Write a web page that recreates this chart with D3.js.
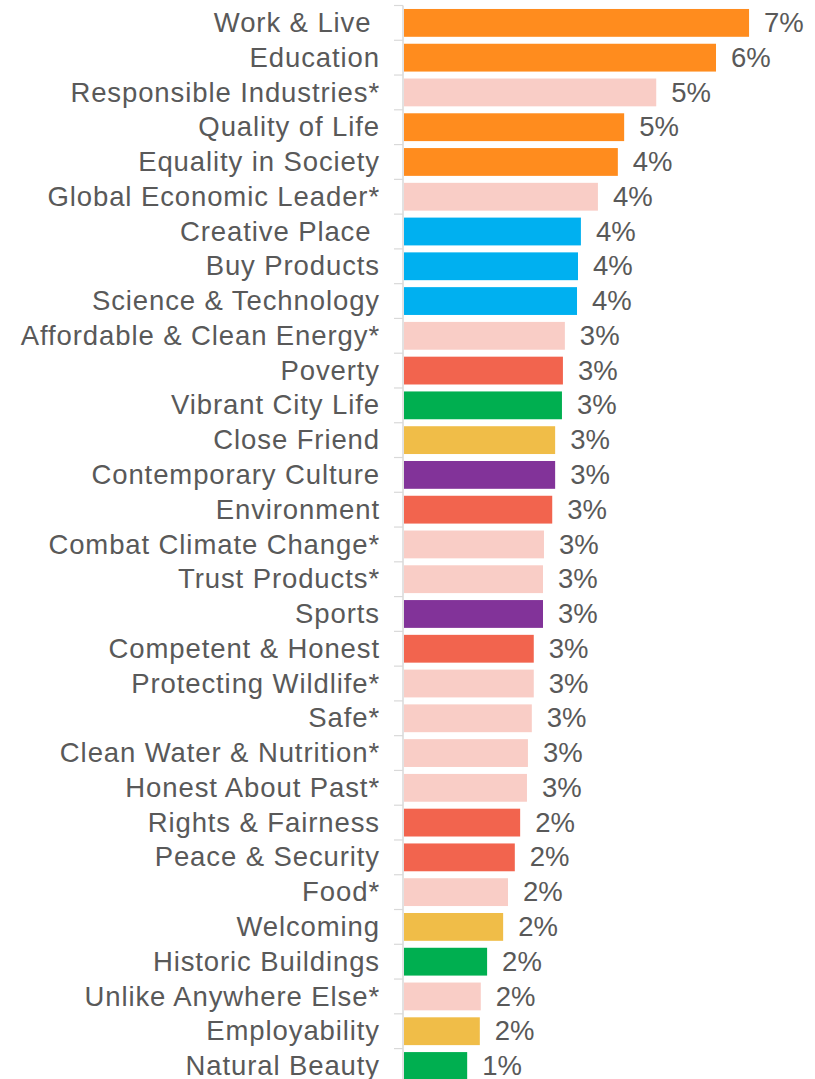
<!DOCTYPE html>
<html>
<head>
<meta charset="utf-8">
<script src="https://cdn.jsdelivr.net/npm/d3@7"></script>
<style>
  html, body { margin: 0; padding: 0; background: #fff; }
  svg { display: block; }
  text { font-family: "Liberation Sans", Arial, sans-serif; fill: #595959; white-space: pre; }
</style>
</head>
<body>
<svg id="chart" width="815" height="1079"></svg>
<script>
// Share of mentions per attribute (percent)
const categories = [
  "Work & Live ", "Education", "Responsible Industries*", "Quality of Life",
  "Equality in Society", "Global Economic Leader*", "Creative Place ", "Buy Products",
  "Science & Technology", "Affordable & Clean Energy*", "Poverty", "Vibrant City Life",
  "Close Friend", "Contemporary Culture", "Environment", "Combat Climate Change*",
  "Trust Products*", "Sports", "Competent & Honest", "Protecting Wildlife*",
  "Safe*", "Clean Water & Nutrition*", "Honest About Past*", "Rights & Fairness",
  "Peace & Security", "Food*", "Welcoming", "Historic Buildings",
  "Unlike Anywhere Else*", "Employability", "Natural Beauty"
];

const values = [
  7.10, 6.42, 5.19, 4.53,
  4.40, 3.99, 3.64, 3.58,
  3.56, 3.31, 3.27, 3.25,
  3.11, 3.11, 3.05, 2.88,
  2.86, 2.86, 2.67, 2.67,
  2.63, 2.55, 2.53, 2.39,
  2.28, 2.14, 2.04, 1.71,
  1.58, 1.56, 1.30
];

// Theme group of each attribute
const groups = [
  "orange", "orange", "pink", "orange",
  "orange", "pink", "blue", "blue",
  "blue", "pink", "red", "green",
  "gold", "purple", "red", "pink",
  "pink", "purple", "red", "pink",
  "pink", "pink", "pink", "red",
  "red", "pink", "gold", "green",
  "pink", "gold", "green"
];

const groupKeys = ["orange", "pink", "blue", "red", "green", "gold", "purple"];
const groupColors = ["#FF8C1E", "#F9CDC6", "#00B0F0", "#F2644E", "#00AF50", "#F0BD48", "#823399"];

const rows = categories.map((c, i) => ({ name: c, value: values[i], group: groups[i] }));

const svg = d3.select("#chart");

const x = d3.scaleLinear().domain([0, 8]).range([404, 404 + 8 * 48.6]);
const y = d3.scaleBand()
  .domain(categories)
  .range([5.5, 5.5 + categories.length * 34.77])
  .paddingInner(0.2)
  .paddingOuter(0.1);
const color = d3.scaleOrdinal().domain(groupKeys).range(groupColors);
const fmt = v => d3.format(".0f")(v) + "%";

// Bars
svg.append("g")
  .selectAll("rect")
  .data(rows)
  .join("rect")
  .attr("x", x(0))
  .attr("y", d => y(d.name))
  .attr("width", d => x(d.value) - x(0))
  .attr("height", y.bandwidth())
  .attr("fill", d => color(d.group));

// Category axis: vertical line with tick marks between categories
const axisG = svg.append("g");
const y0 = y.range()[0], y1 = y.range()[1];
axisG.append("line")
  .attr("x1", 403).attr("x2", 403)
  .attr("y1", y0).attr("y2", y1)
  .attr("stroke", "#D9D9D9").attr("stroke-width", 1.5);
const boundaries = d3.range(categories.length + 1).map(i => y0 + i * y.step());
axisG.selectAll("line.tick")
  .data(boundaries)
  .join("line")
  .attr("class", "tick")
  .attr("x1", 394).attr("x2", 403)
  .attr("y1", d => d).attr("y2", d => d)
  .attr("stroke", "#D9D9D9").attr("stroke-width", 1.2);

// Category labels
svg.append("g")
  .selectAll("text")
  .data(rows)
  .join("text")
  .attr("x", 380)
  .attr("y", d => y(d.name) + y.bandwidth() / 2)
  .attr("dy", "0.33em")
  .attr("text-anchor", "end")
  .attr("font-size", 27.5)
  .attr("letter-spacing", "0.9px")
  .text(d => d.name);

// Value labels
svg.append("g")
  .selectAll("text")
  .data(rows)
  .join("text")
  .attr("x", d => x(d.value) + 15)
  .attr("y", d => y(d.name) + y.bandwidth() / 2)
  .attr("dy", "0.33em")
  .attr("font-size", 27.5)
  .text(d => fmt(d.value));
</script>
</body>
</html>
